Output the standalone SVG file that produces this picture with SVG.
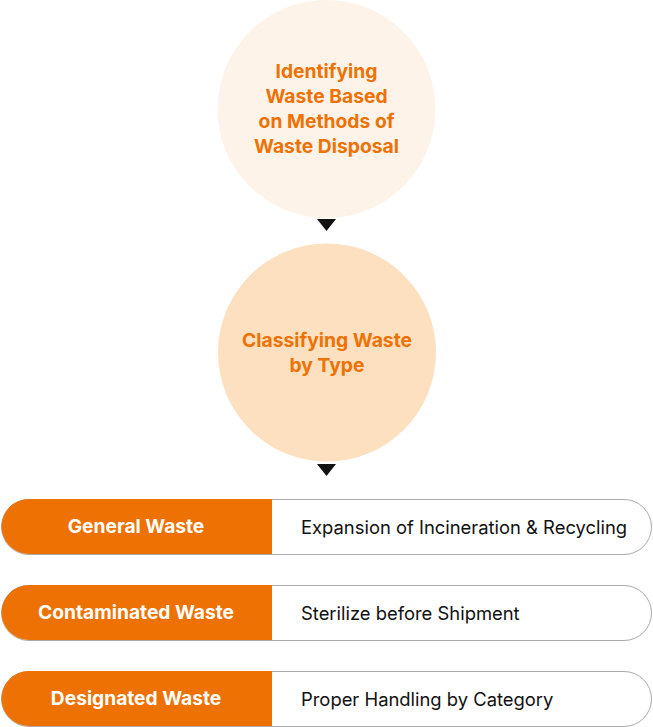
<svg xmlns="http://www.w3.org/2000/svg" width="653" height="727" viewBox="0 0 653 727">
<style>
.ct{font-family:Inter,"Noto Sans",sans-serif;font-weight:700;font-size:19.3px;fill:#EE7203;text-anchor:middle}
.lb{font-family:Inter,"Noto Sans",sans-serif;font-weight:700;font-size:19.2px;fill:#fff;text-anchor:middle}
.ds{font-family:Inter,"Noto Sans",sans-serif;font-weight:400;font-size:18.4px;fill:#111}
.box{fill:#fff;stroke:#aaa;stroke-width:1}
.tag{fill:#EE7203}
</style>
<g id="connectors">
<polygon points="317,219 336,219 326.5,231" fill="#111"/>
<polygon points="317,464 336,464 326.5,476" fill="#111"/>
</g>
<g id="step1">
<circle cx="326.5" cy="109" r="109" fill="#FDF3E8"/>
<text class="ct" x="326.5" y="78">Identifying</text>
<text class="ct" x="326.5" y="103">Waste Based</text>
<text class="ct" x="326.5" y="128">on Methods of</text>
<text class="ct" x="326.5" y="153">Waste Disposal</text>
</g>
<g id="step2">
<circle cx="327" cy="352.5" r="109" fill="#FDE0C0"/>
<text class="ct" x="327" y="347">Classifying Waste</text>
<text class="ct" x="327" y="372">by Type</text>
</g>
<g id="row1">
<rect class="box" x="1.5" y="499.5" width="650" height="55" rx="27.5"/>
<path class="tag" d="M272,499 H29 A27.5,27.5 0 0 0 29,554 H272 Z"/>
<text class="lb" x="136" y="533">General Waste</text>
<text class="ds" x="301" y="534">Expansion of Incineration &amp; Recycling</text>
</g>
<g id="row2">
<rect class="box" x="1.5" y="585.5" width="650" height="55" rx="27.5"/>
<path class="tag" d="M272,585 H29 A27.5,27.5 0 0 0 29,640 H272 Z"/>
<text class="lb" x="136" y="619">Contaminated Waste</text>
<text class="ds" x="301" y="620">Sterilize before Shipment</text>
</g>
<g id="row3">
<rect class="box" x="1.5" y="671.5" width="650" height="55" rx="27.5"/>
<path class="tag" d="M272,671 H29 A27.5,27.5 0 0 0 29,726 H272 Z"/>
<text class="lb" x="136" y="705">Designated Waste</text>
<text class="ds" x="301" y="706">Proper Handling by Category</text>
</g>
</svg>
